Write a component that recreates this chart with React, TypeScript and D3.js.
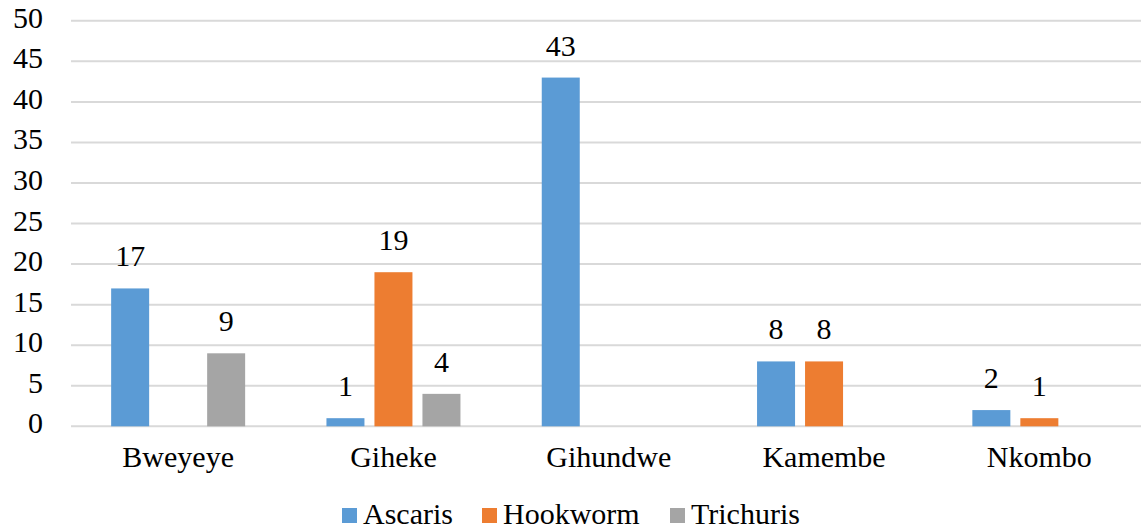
import React from "react";
import * as d3 from "d3";

const categories = ["Bweyeye", "Giheke", "Gihundwe", "Kamembe", "Nkombo"];
const seriesNames = ["Ascaris", "Hookworm", "Trichuris"];
const ascaris = [17, 1, 43, 8, 2];
const hookworm = [0, 19, 0, 8, 1];
const trichuris = [9, 4, 0, 0, 0];
const colors = ["#5B9BD5", "#ED7D31", "#A5A5A5"];
const yTicks = [0, 5, 10, 15, 20, 25, 30, 35, 40, 45, 50];

const W = 1141;
const H = 529;

function T(props: { x: number; y: number; anchor?: string; children: React.ReactNode }) {
  return (
    <text
      x={props.x}
      y={props.y}
      textAnchor={props.anchor || "start"}
      fill="#000"
      fontFamily="Liberation Serif"
      fontSize={30}
      style={{ fontFamily: '"Liberation Serif"', fontSize: "30px" }}
    >
      {props.children}
    </text>
  );
}

export default function App() {
  const seriesValues = [ascaris, hookworm, trichuris];
  const x = d3.scaleBand<string>().domain(categories).range([70.5, 1147]).paddingInner(0).paddingOuter(0);
  const y = d3.scaleLinear().domain([0, 50]).range([426.3, 20.8]);
  const barW = 38;
  const gap = 10;
  const groupW = barW * 3 + gap * 2;

  const legendItems = [
    { name: seriesNames[0], sq: 342, color: colors[0] },
    { name: seriesNames[1], sq: 482, color: colors[1] },
    { name: seriesNames[2], sq: 670, color: colors[2] },
  ];

  return (
    <svg width={W} height={H} style={{ position: "absolute", left: 0, top: 0 }}>
      <style>{`text { font-family: "Liberation Serif", "Times New Roman", serif; font-size: 30px; }`}</style>
      <rect x={0} y={0} width={W} height={H} fill="#fff" />
      {yTicks.map((t) => (
        <g key={t}>
          <line x1={71} x2={W} y1={y(t)} y2={y(t)} stroke="#d9d9d9" strokeWidth={2} />
          <T x={43} y={y(t) + 7} anchor="end">
            {t}
          </T>
        </g>
      ))}
      {categories.map((c, ci) => {
        const cx = (x(c) as number) + x.bandwidth() / 2;
        const x0 = cx - groupW / 2;
        return (
          <g key={c}>
            {seriesValues.map((vals, si) => {
              const v = vals[ci];
              if (!v) return null;
              const bx = x0 + si * (barW + gap);
              return (
                <g key={si}>
                  <rect x={bx} y={y(v)} width={barW} height={y(0) - y(v)} fill={colors[si]} />
                  <T x={bx + barW / 2} y={y(v) - 22} anchor="middle">
                    {v}
                  </T>
                </g>
              );
            })}
            <T x={cx} y={467} anchor="middle">
              {c}
            </T>
          </g>
        );
      })}
      {legendItems.map((it) => (
        <g key={it.name}>
          <rect x={it.sq} y={508} width={15} height={15} fill={it.color} />
          <T x={it.sq + 21} y={524}>
            {it.name}
          </T>
        </g>
      ))}
    </svg>
  );
}
